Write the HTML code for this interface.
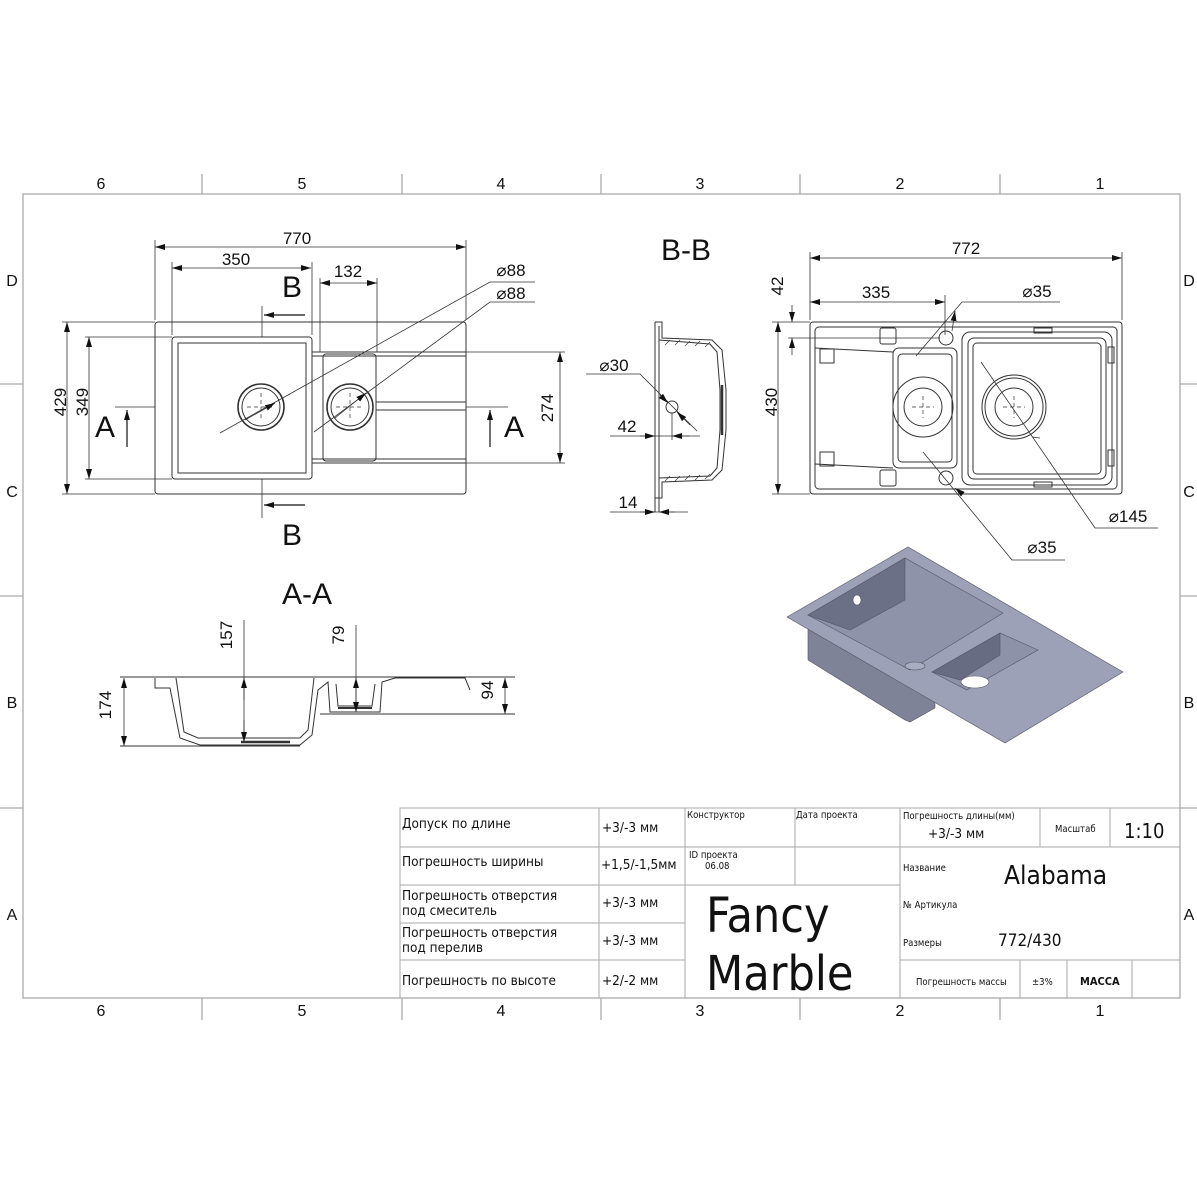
<!DOCTYPE html>
<html><head><meta charset="utf-8"><style>
html,body{margin:0;padding:0;background:#fff;}
svg{display:block;}
text{font-family:"Liberation Sans","DejaVu Sans",sans-serif;fill:#111;}
.n{font-family:"DejaVu Sans Condensed","DejaVu Sans","Liberation Sans",sans-serif;}
</style></head><body>
<svg width="1197" height="1200" viewBox="0 0 1197 1200" xmlns="http://www.w3.org/2000/svg">
<defs>
<marker id="ar" viewBox="0 0 10 6" refX="10" refY="3" markerWidth="10" markerHeight="6" orient="auto-start-reverse" markerUnits="userSpaceOnUse"><path d="M0,0 L10,3 L0,6 z" fill="#111"/></marker>
</defs>
<!-- frame -->
<g stroke="#aaa" stroke-width="1.3" fill="none">
<rect x="23" y="194" width="1157" height="804"/>
<line x1="202" y1="174" x2="202" y2="194"/><line x1="402" y1="174" x2="402" y2="194"/><line x1="601" y1="174" x2="601" y2="194"/><line x1="800" y1="174" x2="800" y2="194"/><line x1="1000" y1="174" x2="1000" y2="194"/>
<line x1="202" y1="998" x2="202" y2="1020"/><line x1="402" y1="998" x2="402" y2="1020"/><line x1="601" y1="998" x2="601" y2="1020"/><line x1="800" y1="998" x2="800" y2="1020"/><line x1="1000" y1="998" x2="1000" y2="1020"/>
<line x1="0" y1="384" x2="23" y2="384"/><line x1="0" y1="596" x2="23" y2="596"/><line x1="0" y1="808" x2="23" y2="808"/>
<line x1="1180" y1="384" x2="1197" y2="384"/><line x1="1180" y1="596" x2="1197" y2="596"/><line x1="1180" y1="808" x2="1197" y2="808"/>
</g>
<g font-size="16" text-anchor="middle">
<text x="101" y="189">6</text><text x="302" y="189">5</text><text x="501" y="189">4</text><text x="700" y="189">3</text><text x="900" y="189">2</text><text x="1100" y="189">1</text>
<text x="101" y="1016">6</text><text x="302" y="1016">5</text><text x="501" y="1016">4</text><text x="700" y="1016">3</text><text x="900" y="1016">2</text><text x="1100" y="1016">1</text>
<text x="12" y="286">D</text><text x="12" y="497">C</text><text x="12" y="708">B</text><text x="12" y="920">A</text>
<text x="1189" y="286">D</text><text x="1189" y="497">C</text><text x="1189" y="708">B</text><text x="1189" y="920">A</text>
</g>

<!-- LEFT PLAN VIEW -->
<g stroke="#333" fill="none" stroke-width="1">
<rect x="155" y="322" width="311" height="172" rx="3"/>
<rect x="172" y="337" width="140" height="142" rx="3"/>
<rect x="178" y="343" width="128" height="130"/>
<line x1="312" y1="352" x2="466" y2="352"/><line x1="312" y1="356" x2="466" y2="356"/>
<line x1="312" y1="463" x2="466" y2="463"/><line x1="312" y1="459" x2="466" y2="459"/>
<rect x="323" y="354" width="53" height="107" rx="3"/>
<line x1="376" y1="402" x2="466" y2="402"/><line x1="376" y1="410" x2="466" y2="410"/>
<circle cx="261" cy="407" r="23" stroke-width="1.6"/><circle cx="261" cy="407" r="19"/>
<circle cx="350" cy="407" r="23" stroke-width="1.6"/><circle cx="350" cy="407" r="19"/>
<g stroke-dasharray="4,3" stroke-width="0.7"><line x1="247" y1="407" x2="275" y2="407"/><line x1="261" y1="393" x2="261" y2="421"/><line x1="336" y1="407" x2="364" y2="407"/><line x1="350" y1="393" x2="350" y2="421"/></g>
</g>
<g stroke="#333" stroke-width="0.8" fill="none">
<line x1="155" y1="240" x2="155" y2="320"/><line x1="466" y1="240" x2="466" y2="320"/>
<line x1="155" y1="247" x2="466" y2="247" marker-start="url(#ar)" marker-end="url(#ar)"/>
<line x1="172" y1="262" x2="172" y2="335"/><line x1="312" y1="262" x2="312" y2="335"/>
<line x1="172" y1="268" x2="311" y2="268" marker-start="url(#ar)" marker-end="url(#ar)"/>
<line x1="320" y1="278" x2="320" y2="352"/><line x1="377" y1="278" x2="377" y2="352"/>
<line x1="320" y1="283" x2="377" y2="283" marker-start="url(#ar)" marker-end="url(#ar)"/>
<line x1="62" y1="322" x2="155" y2="322"/><line x1="62" y1="494" x2="155" y2="494"/>
<line x1="67" y1="322" x2="67" y2="494" marker-start="url(#ar)" marker-end="url(#ar)"/>
<line x1="85" y1="337" x2="172" y2="337"/><line x1="85" y1="479" x2="172" y2="479"/>
<line x1="89" y1="337" x2="89" y2="479" marker-start="url(#ar)" marker-end="url(#ar)"/>
<line x1="466" y1="352" x2="565" y2="352"/><line x1="466" y1="463" x2="565" y2="463"/>
<line x1="560" y1="352" x2="560" y2="463" marker-start="url(#ar)" marker-end="url(#ar)"/>
<polyline points="220,433 490,282 535,282"/><line x1="275" y1="403" x2="245" y2="420" marker-start="url(#ar)"/>
<polyline points="314,432 490,302 535,302"/><line x1="366" y1="393" x2="335" y2="418" marker-start="url(#ar)"/>
<line x1="115" y1="407" x2="155" y2="407"/><line x1="466" y1="407" x2="508" y2="407"/>
<line x1="262" y1="306" x2="262" y2="337"/><line x1="262" y1="479" x2="262" y2="518"/>
</g>
<g stroke="#111" stroke-width="1.2">
<line x1="127" y1="447" x2="127" y2="410" marker-end="url(#ar)"/>
<line x1="490" y1="447" x2="490" y2="410" marker-end="url(#ar)"/>
<line x1="305" y1="315" x2="264" y2="315" marker-end="url(#ar)"/>
<line x1="305" y1="505" x2="264" y2="505" marker-end="url(#ar)"/>
</g>
<g font-size="17" text-anchor="middle">
<text x="297" y="244">770</text><text x="236" y="265">350</text><text x="348" y="277">132</text>
<text x="72" y="408" transform="rotate(-90 66 408)">429</text>
<text x="94" y="408" transform="rotate(-90 88 408)">349</text>
<text x="553" y="408" transform="rotate(90 553 408) rotate(180 553 408)">274</text>
<text x="511" y="276">⌀88</text><text x="511" y="299">⌀88</text>
</g>
<g font-size="30" text-anchor="middle">
<text x="105" y="437">A</text><text x="514" y="437">A</text>
<text x="292" y="297">B</text><text x="292" y="545">B</text>
<text x="307" y="604">A-A</text><text x="686" y="260">B-B</text>
</g>

<!-- B-B SECTION -->
<g stroke="#333" stroke-width="1" fill="none">
<line x1="655" y1="322" x2="655" y2="512"/><line x1="659" y1="326" x2="659" y2="512"/>
<path d="M655,322 L662,322 L662,338 L712,340 L722,350 L726,390 L726,430 L722,470 L712,480 L662,482 L662,498 L655,498"/>
<path d="M659,340 L710,344 L717,352 L720,390 L720,430 L717,468 L710,476 L659,478"/>
<line x1="722" y1="385" x2="722" y2="435" stroke-width="2.5"/>
<circle cx="672" cy="407" r="6"/>
<g stroke-width="0.6"><line x1="665" y1="345" x2="670" y2="340"/><line x1="675" y1="345" x2="680" y2="340"/><line x1="685" y1="346" x2="690" y2="341"/><line x1="695" y1="346" x2="700" y2="341"/><line x1="705" y1="347" x2="710" y2="342"/><line x1="665" y1="481" x2="670" y2="476"/><line x1="675" y1="481" x2="680" y2="476"/><line x1="685" y1="480" x2="690" y2="475"/><line x1="695" y1="480" x2="700" y2="475"/><line x1="705" y1="479" x2="710" y2="474"/></g>
</g>
<g stroke="#333" stroke-width="0.8" fill="none">
<polyline points="586,374 640,374 697,431"/><line x1="660" y1="395" x2="668" y2="403" marker-end="url(#ar)"/><line x1="690" y1="425" x2="677" y2="412" marker-end="url(#ar)"/>
<line x1="672" y1="413" x2="672" y2="440"/>
<line x1="610" y1="436" x2="700" y2="436"/><line x1="640" y1="436" x2="655" y2="436" marker-end="url(#ar)"/><line x1="690" y1="436" x2="672" y2="436" marker-end="url(#ar)"/>
<line x1="610" y1="512" x2="688" y2="512"/><line x1="640" y1="512" x2="655" y2="512" marker-end="url(#ar)"/><line x1="675" y1="512" x2="659" y2="512" marker-end="url(#ar)"/>
</g>
<g font-size="17" text-anchor="middle"><text x="614" y="371">⌀30</text><text x="627" y="432">42</text><text x="628" y="508">14</text></g>

<!-- RIGHT PLAN VIEW -->
<g stroke="#333" stroke-width="1" fill="none">
<rect x="810" y="322" width="312" height="172" rx="3"/>
<rect x="815" y="327" width="302" height="162" rx="4"/>
<rect x="893" y="348" width="64" height="120" rx="6"/><rect x="898" y="354" width="54" height="108" rx="4"/>
<rect x="962" y="332" width="150" height="153" rx="8"/><rect x="968" y="338" width="138" height="141" rx="6"/><rect x="973" y="343" width="128" height="131" rx="4"/>
<line x1="815" y1="348" x2="893" y2="352"/><line x1="815" y1="464" x2="893" y2="468"/>
<circle cx="923" cy="407" r="30"/><circle cx="923" cy="407" r="19"/>
<circle cx="1014" cy="407" r="32"/><circle cx="1014" cy="407" r="29"/><circle cx="1014" cy="407" r="19"/>
<circle cx="946" cy="338" r="7"/><circle cx="946" cy="478" r="7"/>
<rect x="880" y="328" width="16" height="16" rx="2"/><rect x="880" y="470" width="16" height="16" rx="2"/>
<rect x="820" y="349" width="14" height="14"/><rect x="820" y="452" width="14" height="14"/>
<rect x="1034" y="328" width="18" height="5"/><rect x="1034" y="482" width="18" height="5"/>
<rect x="1108" y="347" width="6" height="16"/><rect x="1108" y="450" width="6" height="16"/>
<g stroke-dasharray="4,3" stroke-width="0.7"><line x1="912" y1="407" x2="934" y2="407"/><line x1="923" y1="396" x2="923" y2="418"/><line x1="1003" y1="407" x2="1025" y2="407"/><line x1="1014" y1="396" x2="1014" y2="418"/></g>
</g>
<g stroke="#333" stroke-width="0.8" fill="none">
<line x1="810" y1="252" x2="810" y2="320"/><line x1="1122" y1="252" x2="1122" y2="320"/>
<line x1="810" y1="258" x2="1122" y2="258" marker-start="url(#ar)" marker-end="url(#ar)"/>
<line x1="945" y1="295" x2="945" y2="335"/>
<line x1="810" y1="302" x2="945" y2="302" marker-start="url(#ar)" marker-end="url(#ar)"/>
<line x1="772" y1="322" x2="810" y2="322"/><line x1="772" y1="494" x2="810" y2="494"/>
<line x1="778" y1="322" x2="778" y2="494" marker-start="url(#ar)" marker-end="url(#ar)"/>
<line x1="788" y1="338" x2="940" y2="338"/>
<line x1="792" y1="305" x2="792" y2="322" marker-end="url(#ar)"/><line x1="792" y1="355" x2="792" y2="338" marker-end="url(#ar)"/>
<polyline points="916,356 962,302 1060,302"/><line x1="955" y1="311" x2="952" y2="331" marker-start="url(#ar)"/>
<polyline points="923,452 1012,560 1065,560"/><line x1="955" y1="488" x2="960" y2="492" marker-start="url(#ar)"/>
<polyline points="981,362 1095,528 1158,528"/><line x1="1032" y1="437" x2="1040" y2="438"/>
</g>
<g font-size="17" text-anchor="middle">
<text x="966" y="254">772</text><text x="876" y="298">335</text>
<text x="783" y="408" transform="rotate(-90 777 408)">430</text>
<text x="789" y="292" transform="rotate(-90 783 292)">42</text>
<text x="1037" y="297">⌀35</text><text x="1042" y="553">⌀35</text><text x="1128" y="522">⌀145</text>
</g>

<!-- A-A SECTION -->
<g stroke="#333" stroke-width="1" fill="none">
<line x1="120" y1="677" x2="515" y2="677"/><line x1="120" y1="746" x2="300" y2="746"/><line x1="320" y1="714" x2="515" y2="714"/>
<path d="M155,678 L155,688 L170,688 L180,738 L200,745 L300,745 L312,735 L318,690 L328,682 L330,712 L380,712 L382,682 L395,678 L465,678 L470,690"/>
<path d="M176,678 L184,732 L198,738 L300,738 L308,730 L314,678"/>
<path d="M336,684 L338,706 L372,706 L375,684"/>
<line x1="241" y1="742" x2="290" y2="742" stroke-width="2.5"/><line x1="338" y1="708" x2="372" y2="708" stroke-width="2"/>
</g>
<g stroke="#333" stroke-width="0.8" fill="none">
<line x1="124" y1="678" x2="124" y2="746" marker-start="url(#ar)" marker-end="url(#ar)"/>
<line x1="244" y1="620" x2="244" y2="742"/><line x1="244" y1="700" x2="244" y2="678" marker-end="url(#ar)"/><line x1="244" y1="720" x2="244" y2="742" marker-end="url(#ar)"/>
<line x1="356" y1="625" x2="356" y2="712"/><line x1="356" y1="695" x2="356" y2="678" marker-end="url(#ar)"/><line x1="356" y1="695" x2="356" y2="712" marker-end="url(#ar)"/>
<line x1="505" y1="678" x2="505" y2="714" marker-start="url(#ar)" marker-end="url(#ar)"/>
</g>
<g font-size="17" text-anchor="middle">
<text x="117" y="711" transform="rotate(-90 111 711)">174</text>
<text x="238" y="641" transform="rotate(-90 232 641)">157</text>
<text x="350" y="641" transform="rotate(-90 344 641)">79</text>
<text x="499" y="696" transform="rotate(-90 493 696)">94</text>
</g>

<!-- 3D -->
<g stroke="#556" stroke-width="0.6">
<polygon points="808,628 808,660 905,720 910,722 935,708 935,690" fill="#7f8398"/>
<polygon points="787,617 908,547 1123,672 1005,743" fill="#9ca1b8"/>
<polygon points="808,615 905,558 1003,613 910,670" fill="#8e93aa"/>
<polygon points="808,615 905,558 905,600 850,630" fill="#6c7086"/>
<polygon points="932,672 1000,633 1038,650 967,690" fill="#8d92a8"/>
<polygon points="932,672 1000,633 1000,655 960,680" fill="#686c82"/>
<ellipse cx="857" cy="600" rx="4" ry="5" fill="#fff"/>
<ellipse cx="975" cy="682" rx="14" ry="6" fill="#fff"/>
<ellipse cx="915" cy="666" rx="10" ry="4" fill="#a8acc0"/>
</g>

<!-- TITLE BLOCK -->
<g stroke="#aaa" stroke-width="1" fill="none">
<rect x="400" y="808" width="780" height="190"/>
<line x1="400" y1="847" x2="685" y2="847"/><line x1="400" y1="885" x2="900" y2="885"/><line x1="400" y1="923" x2="685" y2="923"/><line x1="400" y1="960" x2="685" y2="960"/>
<line x1="685" y1="847" x2="900" y2="847"/><line x1="900" y1="847" x2="1180" y2="847"/><line x1="900" y1="960" x2="1180" y2="960"/>
<line x1="599" y1="808" x2="599" y2="998"/><line x1="685" y1="808" x2="685" y2="998"/><line x1="795" y1="808" x2="795" y2="885"/><line x1="900" y1="808" x2="900" y2="998"/>
<line x1="1040" y1="808" x2="1040" y2="847"/><line x1="1110" y1="808" x2="1110" y2="847"/>
<line x1="1020" y1="960" x2="1020" y2="998"/><line x1="1067" y1="960" x2="1067" y2="998"/><line x1="1132" y1="960" x2="1132" y2="998"/>
</g>
<g class="n" font-size="13.5">
<text x="402" y="828" class="n">Допуск по длине</text>
<text x="402" y="866" class="n">Погрешность ширины</text>
<text x="402" y="900" class="n">Погрешность отверстия</text><text x="402" y="915" class="n">под смеситель</text>
<text x="402" y="937" class="n">Погрешность отверстия</text><text x="402" y="952" class="n">под перелив</text>
<text x="402" y="985" class="n">Погрешность по высоте</text>
<text x="602" y="832" class="n">+3/-3 мм</text><text x="601" y="869" class="n">+1,5/-1,5мм</text>
<text x="602" y="907" class="n">+3/-3 мм</text><text x="602" y="945" class="n">+3/-3 мм</text><text x="602" y="985" class="n">+2/-2 мм</text>
</g>
<g class="n" font-size="9.5">
<text x="687" y="818" class="n">Конструктор</text><text x="796" y="818" class="n">Дата проекта</text>
<text x="689" y="858" class="n">ID проекта</text><text x="705" y="869" class="n">06.08</text>
<text x="903" y="819" class="n">Погрешность длины(мм)</text>
<text x="1055" y="832" class="n">Масштаб</text>
<text x="903" y="871" class="n">Название</text><text x="903" y="908" class="n">№ Артикула</text><text x="903" y="946" class="n">Размеры</text>
<text x="916" y="985" class="n">Погрешность массы</text><text x="1032" y="985" class="n">±3%</text>
</g>
<text x="928" y="838" font-size="13.5" class="n">+3/-3 мм</text>
<text x="1124" y="838" font-size="20" class="n">1:10</text>
<text x="1004" y="884" font-size="26" class="n">Alabama</text>
<text x="998" y="946" font-size="17" class="n">772/430</text>
<text x="1080" y="985" font-size="11" class="n" font-weight="bold">МАССА</text>
<text x="706" y="932" font-size="48" class="n">Fancy</text>
<text x="706" y="990" font-size="48" class="n">Marble</text>
</svg>
</body></html>
